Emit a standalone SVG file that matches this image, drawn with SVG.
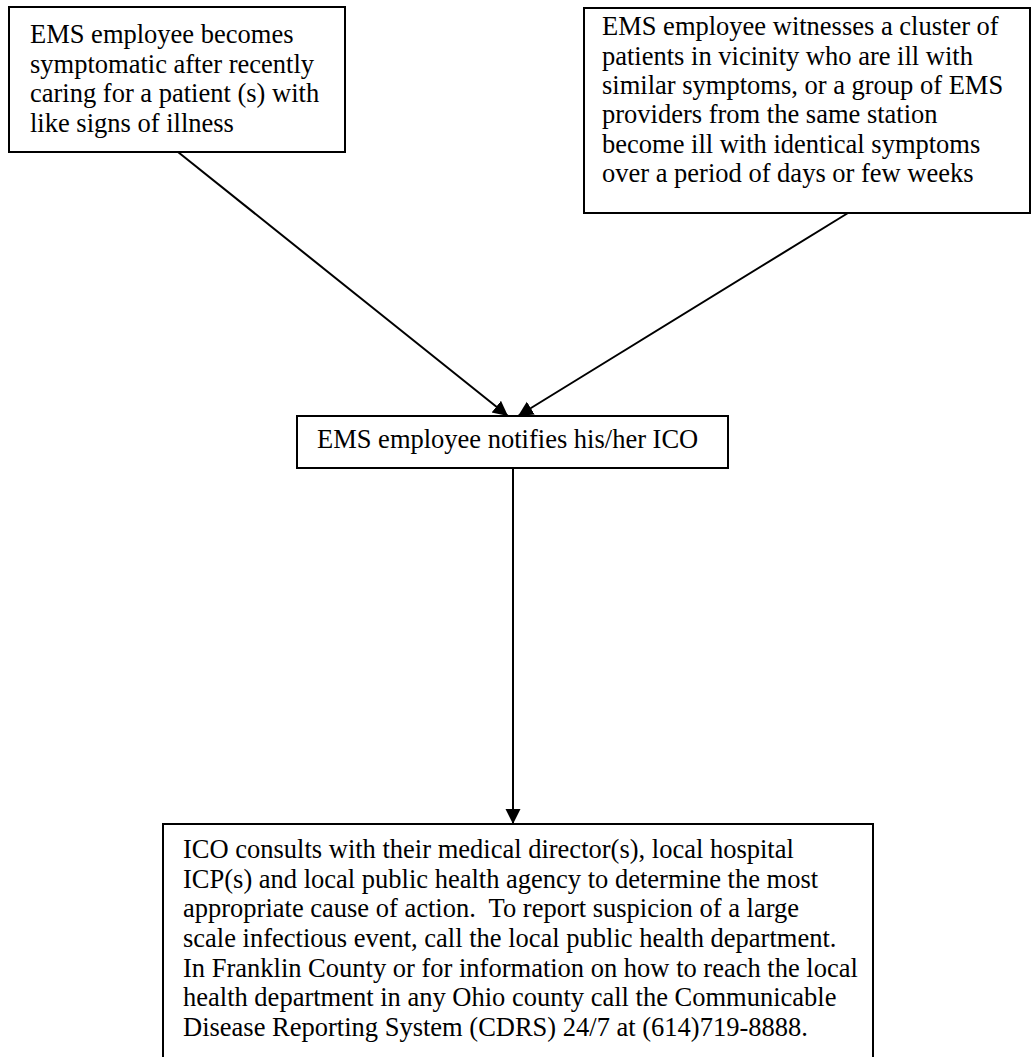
<svg xmlns="http://www.w3.org/2000/svg" width="1032" height="1057" viewBox="0 0 1032 1057">
<style>
.box{fill:#fff;stroke:#000;stroke-width:2}
.t{font-family:"Liberation Serif","Times New Roman",serif;font-size:26.5px;fill:#000}
.c{stroke:#000;stroke-width:2;fill:none}
</style>
<defs>
<marker id="ah" markerUnits="userSpaceOnUse" markerWidth="16" markerHeight="16" refX="15" refY="7.5" orient="auto">
<path d="M0,0 L15,7.5 L0,15 z" fill="#000"/>
</marker>
</defs>
<rect width="1032" height="1057" fill="#fff"/>
<g id="connectors">
<line class="c" x1="178" y1="152" x2="508" y2="416" marker-end="url(#ah)"/>
<line class="c" x1="848" y1="213" x2="518" y2="416" marker-end="url(#ah)"/>
<line class="c" x1="513" y1="468" x2="513" y2="824" marker-end="url(#ah)"/>
</g>
<g id="node-symptomatic">
<rect class="box" x="9" y="7" width="336" height="145"/>
<text class="t" x="30" y="43">EMS employee becomes</text>
<text class="t" x="30" y="73">symptomatic after recently</text>
<text class="t" x="30" y="102">caring for a patient (s) with</text>
<text class="t" x="30" y="132">like signs of illness</text>
</g>
<g id="node-cluster">
<rect class="box" x="584" y="8" width="446" height="205"/>
<text class="t" x="602" y="35">EMS employee witnesses a cluster of</text>
<text class="t" x="602" y="65">patients in vicinity who are ill with</text>
<text class="t" x="602" y="94">similar symptoms, or a group of EMS</text>
<text class="t" x="602" y="123">providers from the same station</text>
<text class="t" x="602" y="153">become ill with identical symptoms</text>
<text class="t" x="602" y="182">over a period of days or few weeks</text>
</g>
<g id="node-notify">
<rect class="box" x="297" y="416" width="431" height="52"/>
<text class="t" x="317" y="448">EMS employee notifies his/her ICO</text>
</g>
<g id="node-consult">
<rect class="box" x="163" y="824" width="710" height="245"/>
<text class="t" x="183" y="858">ICO consults with their medical director(s), local hospital</text>
<text class="t" x="183" y="888">ICP(s) and local public health agency to determine the most</text>
<text class="t" x="183" y="917">appropriate cause of action.&#160; To report suspicion of a large</text>
<text class="t" x="183" y="947">scale infectious event, call the local public health department.</text>
<text class="t" x="183" y="977">In Franklin County or for information on how to reach the local</text>
<text class="t" x="183" y="1006">health department in any Ohio county call the Communicable</text>
<text class="t" x="183" y="1036">Disease Reporting System (CDRS) 24/7 at (614)719-8888.</text>
</g>
</svg>
